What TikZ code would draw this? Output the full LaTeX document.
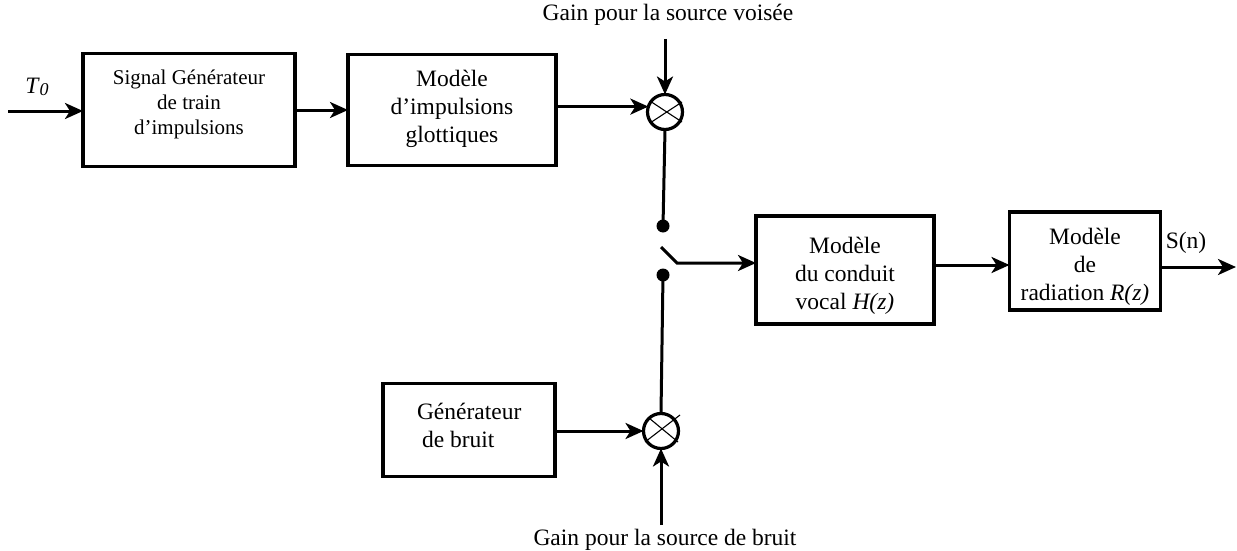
\documentclass[tikz,border=0pt]{standalone}
\usepackage{fontspec}
\setmainfont{Liberation Serif}
\usetikzlibrary{arrows.meta,calc}

\begin{document}
\begin{tikzpicture}[x=1pt,y=-1pt,
  every node/.style={inner sep=0pt, outer sep=0pt},
  blk/.style={draw, line width=3.2pt},
  txt/.style={align=center, font=\fontsize{23.5}{28}\selectfont},
  smalltxt/.style={align=center, font=\fontsize{21}{25}\selectfont},
  mult/.style={draw, circle, line width=3.2pt, minimum size=35pt},
  dot/.style={circle, fill, minimum size=13pt},
  wire/.style={line width=3pt},
  arr/.style={line width=3pt, -{Stealth[length=18pt,width=16pt,inset=5pt]}},
  cross/.style={line width=1.1pt}]

\useasboundingbox (0,0) rectangle (1237,551);

% blocks
\node[blk, minimum width=212pt, minimum height=113pt] (b1) at (189,110) {};
\node[blk, minimum width=208pt, minimum height=111pt] (b2) at (452,110) {};
\node[blk, minimum width=178pt, minimum height=108pt] (b3) at (845,270) {};
\node[blk, minimum width=151pt, minimum height=98pt]  (b4) at (1085,261) {};
\node[blk, minimum width=172pt, minimum height=93pt]  (b5) at (469,430) {};

% block texts
\node[smalltxt] (t1) at (189,104) {Signal Générateur\\de train\\d’impulsions};
\node[txt] (t2) at (452,109) {Modèle\\d’impulsions\\glottiques};
\node[txt] (t3) at (845,276) {Modèle\\du conduit\\vocal \textit{H(z)}};
\node[txt] (t4) at (1085,267) {Modèle\\de\\radiation \textit{R(z)}};
\node[txt, align=left, anchor=west] (t5) at (417,425) {Générateur\\\hspace{5pt}de bruit};

% multipliers
\node[mult] (m1) at (665,112) {};
\draw[cross] ($(m1.center)+(-15,-11)$) -- ($(m1.center)+(17,10)$);
\draw[cross] ($(m1.center)+(-15,11)$) -- ($(m1.center)+(17,-10)$);
\node[mult] (m2) at (661,431) {};
\draw[cross] ($(m2.center)+(-16,11)$) -- ($(m2.center)+(19,-16)$);
\draw[cross] ($(m2.center)+(-12,-13)$) -- ($(m2.center)+(17,11)$);

% switch contacts
\node[dot] (d1) at (663,226) {};
\node[dot] (d2) at (663,275) {};
\coordinate (sw1) at (661,247);
\coordinate (sw2) at (677,263);

% labels
\node[txt] (lt0) at (37,87) {\textit{T}\raisebox{-2pt}{\fontsize{18}{20}\selectfont\itshape 0}};
\node[txt] (lg1) at (668,15) {Gain pour la source voisée};
\node[txt] (lg2) at (665,540) {Gain pour la source de bruit};
\node[txt] (lsn) at (1186,243) {S(n)};

% free ends
\coordinate (in) at (8,111);
\coordinate (g1) at (665,39);
\coordinate (g2) at (661,525);
\coordinate (out) at (1236,267);
\coordinate (j34) at (970,265);

% connectors
\draw[arr] (in) -- (in -| b1.west);
\draw[arr] (b1.east) -- (b2.west);
\draw[arr] (b2.east |- m1.162) -- (m1.162);
\draw[arr] (g1) -- (m1.north);
\draw[wire] (m1.south) -- (d1.center);
\draw[arr, line join=miter] (sw1) -- (sw2) -- (sw2 -| b3.west);
\draw[arr] (j34 -| b3.east) -- (j34 -| b4.west);
\draw[arr] (out -| b4.east) -- (out);
\draw[wire] (d2.center) -- (m2.north);
\draw[arr] (b5.east |- m2) -- (m2.west);
\draw[arr] (g2) -- (m2.south);

\end{tikzpicture}
\end{document}
